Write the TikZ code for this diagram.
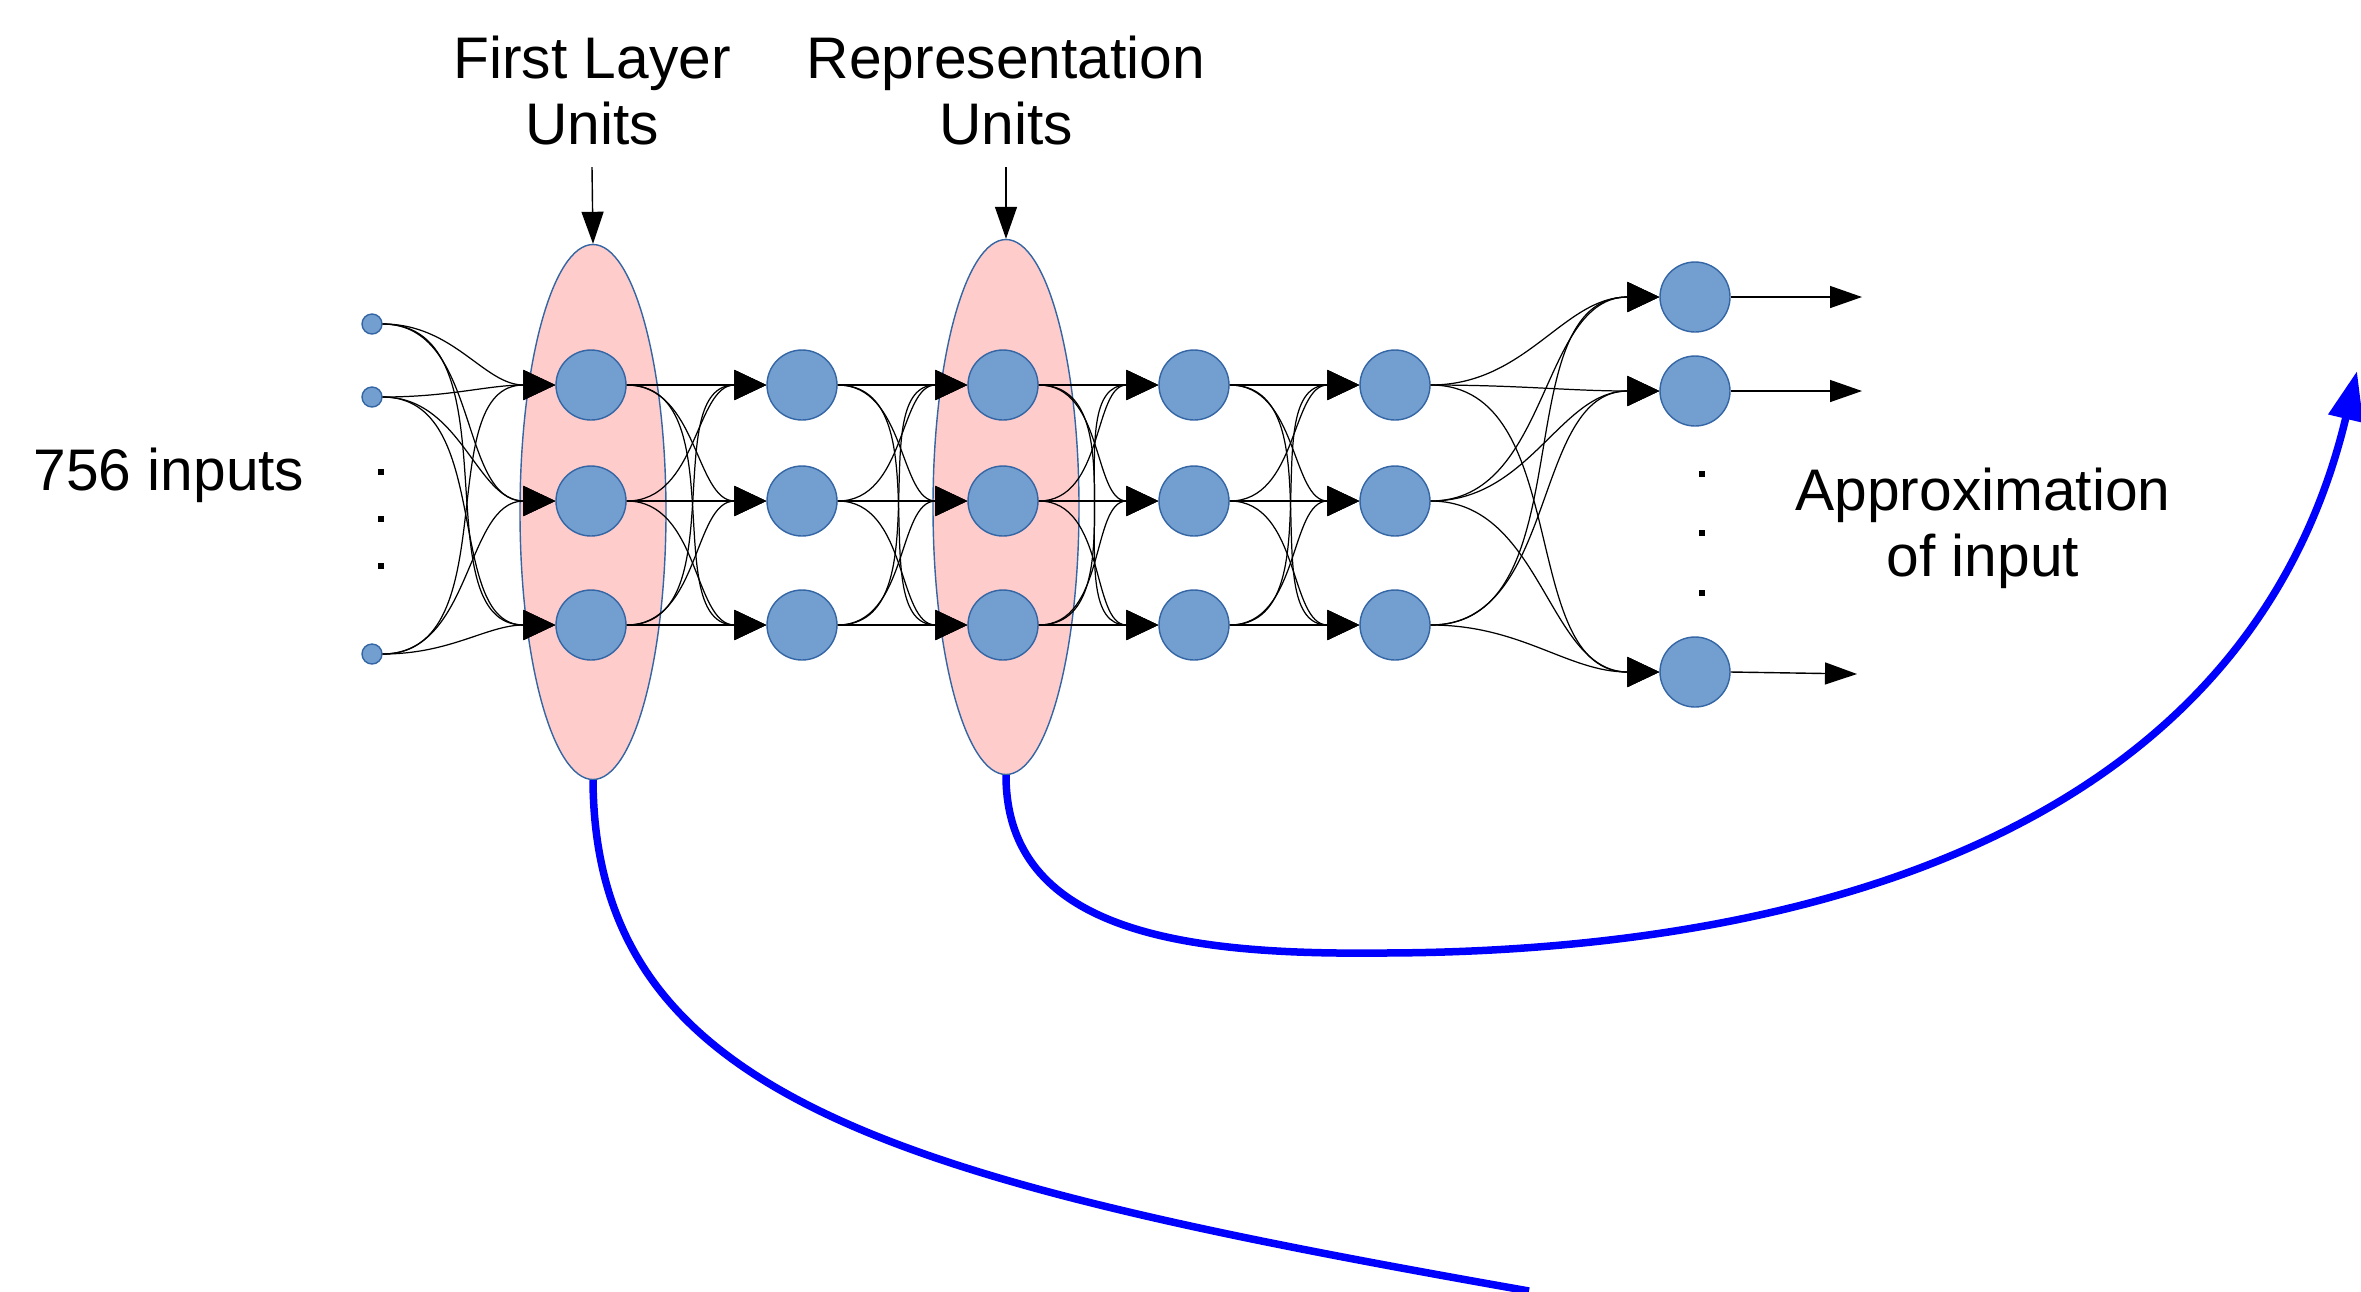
\documentclass[tikz,border=0pt]{standalone}
\usepackage{fontspec}
\setmainfont{Liberation Sans}
\usetikzlibrary{arrows.meta,shapes.geometric}
\definecolor{unitblue}{RGB}{114,159,207}
\definecolor{unitedge}{RGB}{52,101,164}
\definecolor{layerpink}{RGB}{255,204,204}
\tikzset{
    unit/.style={circle, fill=unitblue, draw=unitedge, line width=0.4pt, minimum size=7mm, inner sep=0pt},
    inunit/.style={unit, minimum size=2mm},
    layer/.style={ellipse, fill=layerpink, draw=unitedge, line width=0.4pt, minimum width=14.6mm, minimum height=53.5mm, inner sep=0pt},
    link/.style={-{Triangle[length=3.2mm,width=3mm]}, line width=0.35pt},
    outlink/.style={-{Triangle[length=3.2mm,width=2.2mm]}, line width=0.4pt},
    tag/.style={font=\fontsize{16.7}{18.8}\selectfont, align=center, inner sep=0pt},
    dotmark/.style={rectangle, fill=black, minimum size=0.65mm, inner sep=0pt},
    feedback/.style={blue, line width=0.75mm, -{Triangle[length=4.9mm,width=3.4mm]}}
}
\begin{document}
\begin{tikzpicture}[x=0.1mm, y=-0.1mm]
        \useasboundingbox (0, 0) rectangle (2361, 1291);
        % highlighted layers
        \node [layer] (flell) at (593, 512) {};
        \node [layer] (repell) at (1006, 507) {};
        % units
        \node [inunit] (in1) at (372, 324) {};
        \node [inunit] (in2) at (372, 397) {};
        \node [inunit] (in3) at (372, 654) {};
        \foreach \n/\x in {fl/591, hb/802, rep/1003, hc/1194, hd/1395} {
            \node [unit] (\n1) at (\x, 385) {};
            \node [unit] (\n2) at (\x, 501) {};
            \node [unit] (\n3) at (\x, 625) {};
        }
        \node [unit] (out1) at (1695, 297) {};
        \node [unit] (out2) at (1695, 391) {};
        \node [unit] (out3) at (1695, 672) {};
        % connections
        \foreach \a/\b in {in/fl, fl/hb, hb/rep, rep/hc, hc/hd, hd/out} {
            \foreach \s in {1,2,3} {
                \foreach \t in {1,2,3} {
                    \draw [link] (\a\s.east) to [out=0, in=180] (\b\t.west);
                }
            }
        }
        \coordinate (end1) at (1862, 297);
        \coordinate (end2) at (1862, 391);
        \coordinate (end3) at (1857, 674);
        \foreach \i in {1,2,3} {
            \draw [outlink] (out\i.east) -- (end\i);
        }
        % dots
        \foreach \i/\y in {1/472, 2/519, 3/566} {
            \node [dotmark] (indot\i) at (381, \y) {};
        }
        \foreach \i/\y in {1/474, 2/533, 3/593} {
            \node [dotmark] (outdot\i) at (1702, \y) {};
        }
        % texts
        \node [tag] (intext) at (169, 475) {756 inputs};
        \node [tag] (outtext) at (1983, 528) {Approximation\\of input};
        \node [tag, anchor=south] (fltext) at (592, 146) {First Layer\\Units};
        \node [tag, anchor=south] (reptext) at (1006, 146) {Representation\\Units};
        \draw [outlink] (fltext.south) ++(0, 21) -- (flell.north);
        \draw [outlink] (reptext.south) ++(0, 21) -- (repell.north);
        % feedback curves
        \coordinate (cut) at (1529, 1291);
        \coordinate (tip) at (2357, 371);
        \draw [blue, line width=0.75mm] (flell.south) .. controls (595, 1100) and (900, 1180) .. (cut);
        \draw [feedback] (repell.south) .. controls (1006, 930) and (1180, 955) .. (1378, 953)
            .. controls (1750, 953) and (2240, 860) .. (tip);
    \end{tikzpicture}
\end{document}
